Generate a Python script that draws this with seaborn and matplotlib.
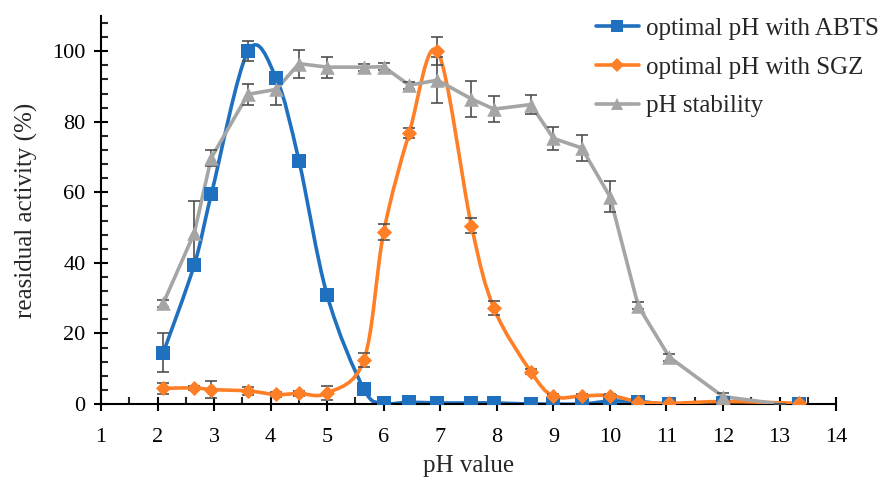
import numpy as np
import pandas as pd
import seaborn as sns
import matplotlib.pyplot as plt
from matplotlib.path import Path
from matplotlib.patches import PathPatch
from matplotlib.lines import Line2D
from matplotlib.ticker import MultipleLocator

# 数据
ph = [2.1, 2.65, 2.95, 3.6, 4.1, 4.5, 5.0, 5.65, 6.0, 6.45, 6.95, 7.55, 7.95,
      8.6, 9.0, 9.5, 10.0, 10.5, 11.05, 12.0, 13.35]
abts = [14.5, 39.5, 59.4, 100, 92.3, 69, 30.8, 4.2, 0.3, 0.5, 0.3, 0.3, 0.3,
        0, 0, 0, 0.8, 0.7, 0, 0.3, 0]
abts_err = [5.5, 0.8, 0.8, 2.8, 1.2, 1.0, 1.0, 0.8, 0.3, 0.3, 0.3, 0.3, 0.3,
            0.3, 0.3, 0.3, 0.3, 0.3, 0.3, 0.3, 0.3]
sgz = [4.4, 4.6, 4.1, 3.7, 2.7, 3.0, 3.1, 12.5, 48.8, 76.8, 100, 50.6, 27.1,
       9.2, 2.2, 2.3, 2.4, 0.7, 0.2, 0.7, 0.2]
sgz_err = [1.5, 0.5, 2.5, 1.2, 0.8, 0.8, 2.0, 2.0, 2.2, 1.5, 4.0, 2.0, 2.0,
           0.8, 0.5, 0.5, 0.5, 0.3, 0.3, 0.3, 0.3]
ph_stab = [2.1, 2.65, 2.95, 3.6, 4.1, 4.5, 5.0, 5.65, 6.0, 6.45, 6.95, 7.55, 7.95,
           8.6, 9.0, 9.5, 10.0, 10.5, 11.05, 12.0, 13.0]
stab = [28.5, 48.5, 69.8, 87.8, 89.2, 96.5, 95.5, 95.5, 95.6, 90.4, 91.8, 86.5, 83.6,
        84.9, 75.3, 72.6, 58.8, 27.8, 13.3, 2.1, 0]
stab_err = [1.0, 9.0, 2.2, 3.0, 4.5, 4.0, 3.0, 1.0, 1.0, 1.0, 6.5, 5.0, 3.6,
            2.7, 3.2, 3.6, 4.5, 1.0, 1.0, 1.0, 0]

labels = ['optimal pH with ABTS', 'optimal pH with SGZ', 'pH stability']
c_abts = '#2070C0'
c_sgz = '#FF7F27'
c_stab = '#A5A5A5'
c_err = '#505050'

sns.set_style('ticks')
plt.rcParams['font.family'] = ['Liberation Serif', 'DejaVu Serif']


def smooth_path(x, y):
    # 类似 Excel 的平滑曲线（贝塞尔）
    pts = np.column_stack([x, y]).astype(float)
    n = len(pts)
    verts = [pts[0]]
    codes = [Path.MOVETO]
    for i in range(n - 1):
        p0 = pts[i - 1] if i > 0 else pts[i]
        p1 = pts[i]
        p2 = pts[i + 1]
        p3 = pts[i + 2] if i + 2 < n else pts[i + 1]
        verts += [p1 + (p2 - p0) / 6, p2 - (p3 - p1) / 6, p2]
        codes += [Path.CURVE4] * 3
    return Path(verts, codes)


fig = plt.figure(figsize=(8.82, 4.82), dpi=100)
ax = fig.add_axes([0.1145, 0.1618, 0.8335, 0.805])

df_a = pd.DataFrame({'ph': ph, 'v': abts})
df_s = pd.DataFrame({'ph': ph, 'v': sgz})
df_t = pd.DataFrame({'ph': ph_stab, 'v': stab})

# 平滑曲线
ax.add_patch(PathPatch(smooth_path(ph, abts), fill=False, edgecolor=c_abts, lw=2.6, zorder=2))
ax.add_patch(PathPatch(smooth_path(ph, sgz), fill=False, edgecolor=c_sgz, lw=2.6, zorder=3))
sns.lineplot(data=df_t, x='ph', y='v', color=c_stab, lw=2.6, ax=ax, zorder=4, sort=False)

# 误差线
ax.errorbar(ph, abts, yerr=abts_err, fmt='none', ecolor=c_err, elinewidth=1.2, capsize=4, capthick=1.2, zorder=5)
ax.errorbar(ph, sgz, yerr=sgz_err, fmt='none', ecolor=c_err, elinewidth=1.2, capsize=4, capthick=1.2, zorder=5)
ax.errorbar(ph_stab, stab, yerr=stab_err, fmt='none', ecolor=c_err, elinewidth=1.2, capsize=4, capthick=1.2, zorder=5)

# 标记点
sns.scatterplot(data=df_a, x='ph', y='v', marker='s', s=100, color=c_abts, linewidth=0, ax=ax, zorder=6)
sns.scatterplot(data=df_s, x='ph', y='v', marker='D', s=60, color=c_sgz, linewidth=0, ax=ax, zorder=7)
sns.scatterplot(data=df_t.iloc[:-1], x='ph', y='v', marker='^', s=110, color=c_stab, linewidth=0, ax=ax, zorder=8)

ax.set_xlim(1, 14)
ax.set_ylim(0, 110)
ax.xaxis.set_major_locator(MultipleLocator(1))
ax.xaxis.set_minor_locator(MultipleLocator(0.5))
ax.set_yticks([0, 20, 40, 60, 80, 100])
ax.yaxis.set_minor_locator(MultipleLocator(4))
ax.tick_params(axis='both', which='major', direction='inout', length=10, width=1.5,
               labelsize=16, colors='black')
ax.tick_params(axis='x', which='major', pad=12)
ax.tick_params(axis='y', which='major', pad=6)
ax.tick_params(axis='both', which='minor', direction='in', length=5, width=1.5)
for sp in ['top', 'right']:
    ax.spines[sp].set_visible(False)
for sp in ['left', 'bottom']:
    ax.spines[sp].set_linewidth(1.5)
    ax.spines[sp].set_color('black')

ax.set_xlabel('pH value', fontsize=18, labelpad=6)
ax.set_ylabel('reasidual activity (%)', fontsize=18, labelpad=10)

handles = [
    Line2D([], [], color=c_abts, lw=2.6, marker='s', markersize=9, markeredgewidth=0),
    Line2D([], [], color=c_sgz, lw=2.6, marker='D', markersize=7, markeredgewidth=0),
    Line2D([], [], color=c_stab, lw=2.6, marker='^', markersize=9, markeredgewidth=0),
]
ax.legend(handles, labels, loc='upper right', bbox_to_anchor=(1.013, 0.995),
          bbox_transform=fig.transFigure, frameon=False, fontsize=18,
          handlelength=1.75, handletextpad=0.25, labelspacing=0.65, borderpad=0.1)

plt.savefig('out.png', dpi=100)
plt.close()
